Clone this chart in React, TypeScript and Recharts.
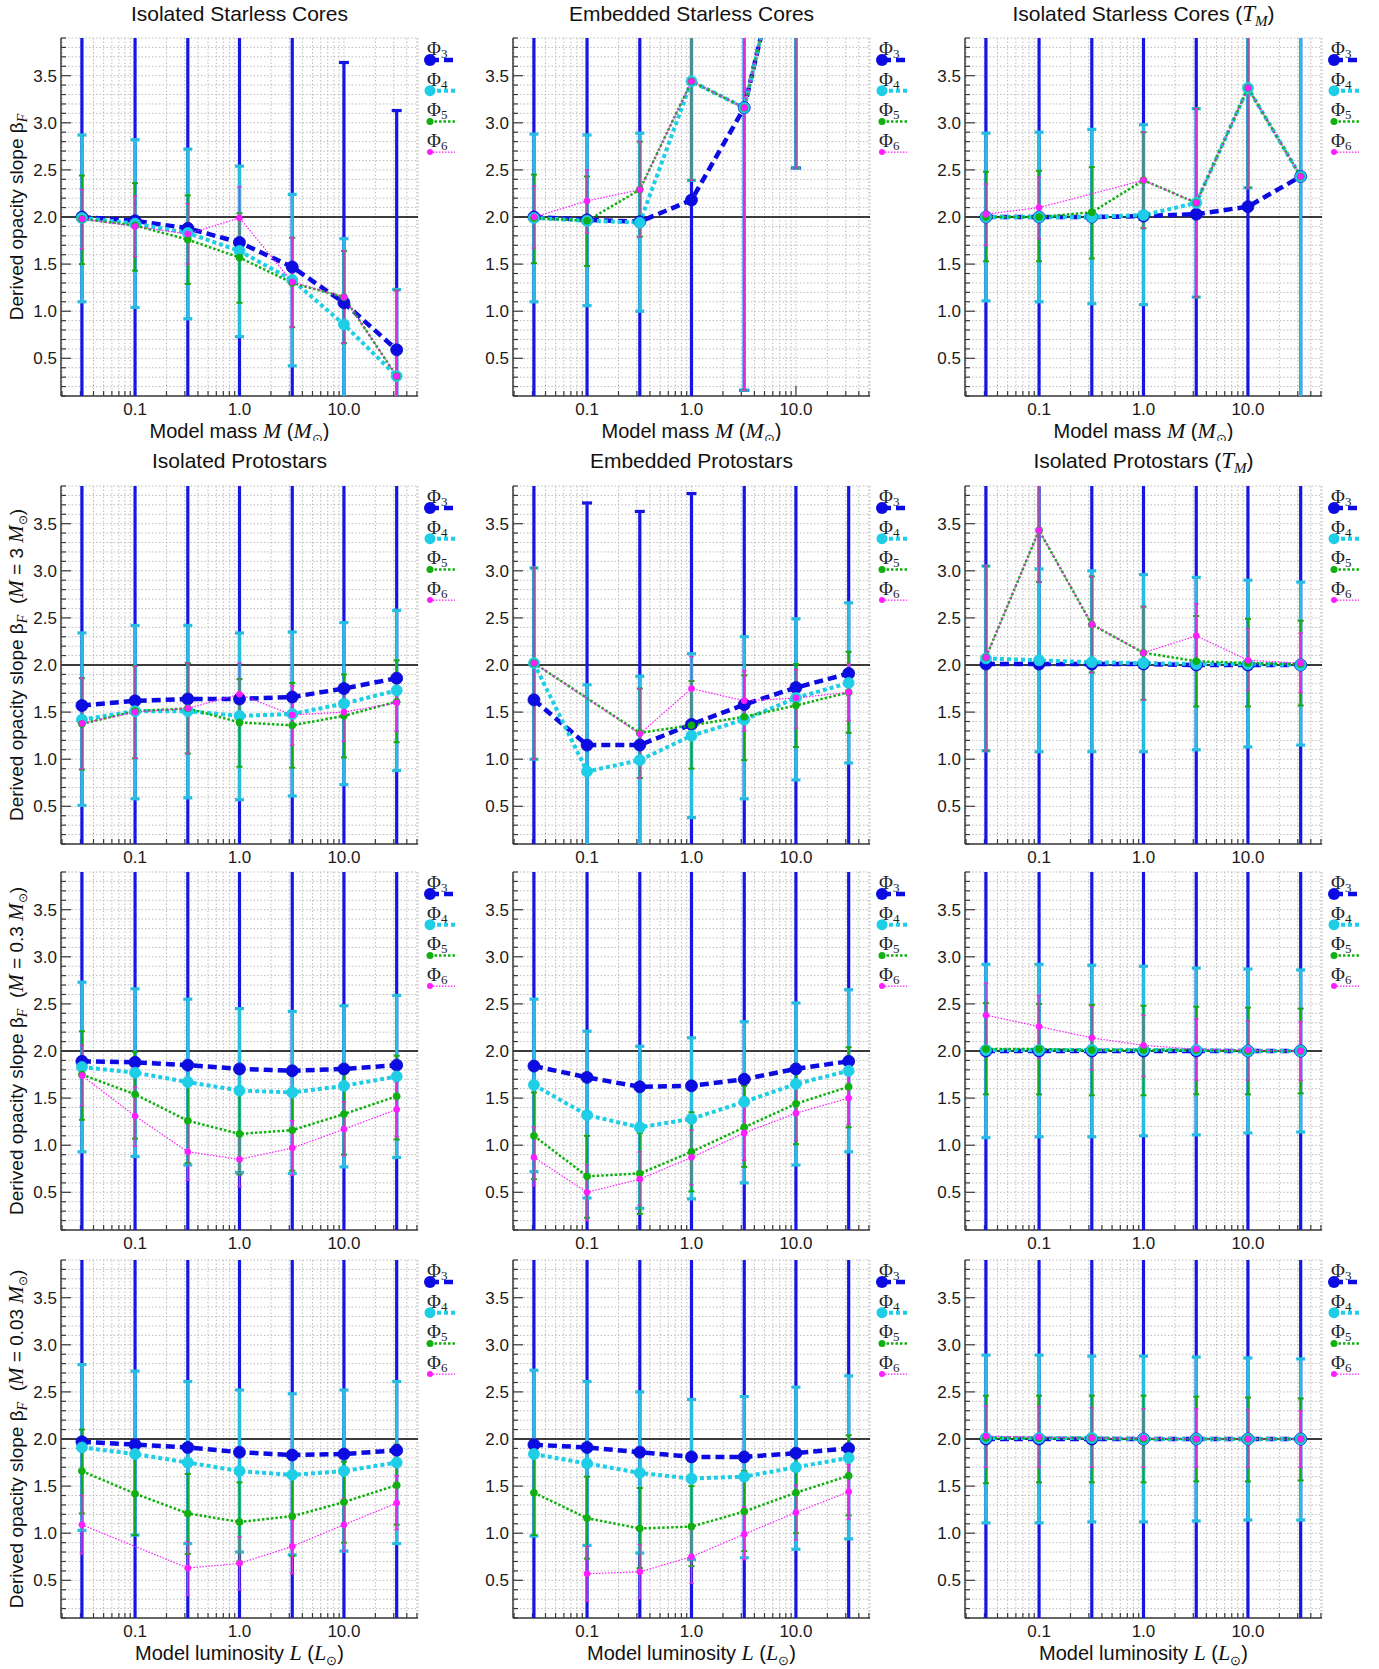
import React from "react";
import { ComposedChart, Line, ErrorBar, XAxis, YAxis, CartesianGrid, ReferenceLine } from "recharts";

// model grid (mass in Msun for the top row, luminosity in Lsun below)
const X_POINTS = [0.031, 0.1, 0.32, 1, 3.2, 10, 32];

// error bar ends that run off the plotted range
const L = -3;
const H = 7;
const OFF_LO = [L, L, L, L, L, L, L];
const OFF_HI = [H, H, H, H, H, H, H];

// rows are Phi3, Phi4, Phi5, Phi6
// Isolated Starless Cores
const iscVal = [
  [2.0, 1.96, 1.88, 1.73, 1.47, 1.09, 0.59],
  [1.99, 1.93, 1.83, 1.64, 1.33, 0.86, 0.31],
  [1.98, 1.91, 1.76, 1.57, 1.3, 1.15, 0.31],
  [1.98, 1.9, 1.82, 1.99, 1.31, 1.15, 0.31],
];
const iscLo = [OFF_LO, [1.1, 1.04, 0.92, 0.73, 0.42, L, L], [1.5, 1.43, 1.29, 1.09, 0.83, 0.66, L], [1.66, 1.58, 1.5, 1.66, 0.83, 0.66, L]];
const iscHi = [[H, H, H, H, H, 3.64, 3.13], [2.87, 2.82, 2.72, 2.54, 2.24, 1.77, 1.23], [2.44, 2.36, 2.23, 2.04, 1.78, 1.64, 1.22], [2.29, 2.22, 2.14, 2.32, 1.78, 1.64, 1.22]];

// Embedded Starless Cores
const escVal = [
  [2.0, 1.97, 1.95, 2.18, 3.16, 5.5, null],
  [1.99, 1.96, 1.94, 3.44, 3.16, 5.5, null],
  [1.99, 1.96, 2.29, 3.44, 3.16, 5.5, null],
  [2.0, 2.17, 2.29, 3.44, 3.16, 5.5, null],
];
const escLo = [[L, L, L, L, 0.16, 2.52, null], [1.1, 1.06, 1.0, 2.39, 0.16, 2.52, null], [1.51, 1.48, 1.79, 2.39, 0.16, 2.52, null], [1.67, 1.83, 1.79, 2.39, 0.16, 2.52, null]];
const escHi = [[H, H, H, H, H, H, null], [2.88, 2.87, 2.89, H, H, H, null], [2.45, 2.43, 2.8, H, H, H, null], [2.33, 2.5, 2.8, H, H, H, null]];

// Isolated Starless Cores (T_M)
const iscTmVal = [
  [2.0, 2.0, 2.0, 2.01, 2.03, 2.11, 2.43],
  [2.0, 2.0, 2.0, 2.02, 2.15, 3.37, 2.43],
  [2.0, 2.0, 2.05, 2.39, 2.15, 3.37, 2.43],
  [2.03, 2.1, null, 2.39, 2.15, 3.37, 2.43],
];
const iscTmLo = [OFF_LO, [1.11, 1.1, 1.08, 1.07, 1.15, 2.31, L], [1.53, 1.53, 1.56, 1.88, 1.15, 2.31, null], [1.7, 1.77, null, 1.88, 1.15, 2.31, null]];
const iscTmHi = [OFF_HI, [2.89, 2.9, 2.93, 2.98, 3.15, H, H], [2.48, 2.49, 2.53, 2.9, 3.15, H, null], [2.35, 2.42, null, 2.9, 3.15, H, null]];

// Isolated Protostars, M = 3
const ip3Val = [
  [1.57, 1.62, 1.64, 1.64, 1.66, 1.75, 1.86],
  [1.42, 1.51, 1.51, 1.46, 1.48, 1.59, 1.73],
  [1.375, 1.51, 1.54, 1.39, 1.36, 1.46, 1.61],
  [1.38, 1.5, 1.54, 1.69, 1.47, 1.5, 1.6],
];
const ip3Lo = [OFF_LO, [0.51, 0.58, 0.59, 0.57, 0.61, 0.73, 0.88], [0.89, 1.01, 1.06, 0.92, 0.91, 1.02, 1.18], [0.9, 1.01, 1.06, 1.36, 1.15, 1.19, 1.3]];
const ip3Hi = [OFF_HI, [2.34, 2.42, 2.42, 2.34, 2.35, 2.45, 2.58], [1.86, 1.99, 2.02, 1.85, 1.81, 1.9, 2.05], [1.86, 1.99, 2.02, 2.02, 1.78, 1.7, 1.9]];

// Embedded Protostars, M = 3
const ep3Val = [
  [1.63, 1.15, 1.15, 1.37, 1.58, 1.76, 1.91],
  [2.02, 0.87, 0.99, 1.25, 1.42, 1.65, 1.81],
  [2.02, null, 1.28, 1.36, 1.45, 1.57, 1.71],
  [2.02, null, 1.27, 1.75, 1.62, 1.65, 1.71],
];
const ep3Lo = [OFF_LO, [1.0, L, L, 0.38, 0.58, 0.78, 0.96], [1.0, null, 0.8, 0.9, 0.99, 1.13, 1.28], [1.0, null, 0.8, 1.41, 1.3, 1.33, 1.41]];
const ep3Hi = [[H, 3.72, 3.63, 3.82, H, H, H], [3.03, 1.79, 1.88, 2.12, 2.3, 2.49, 2.66], [3.03, null, 1.75, 1.83, 1.89, 2.01, 2.14], [3.03, null, 1.75, 2.09, 1.94, 1.95, 2.01]];

// Isolated Protostars (T_M), M = 3
const ip3TmVal = [
  [2.01, 2.01, 2.01, 2.01, 2.0, 2.0, 2.0],
  [2.07, 2.05, 2.03, 2.02, 2.01, 2.01, 2.0],
  [2.08, 3.43, 2.43, 2.13, 2.04, 2.02, 2.01],
  [2.08, 3.43, 2.43, 2.13, 2.31, 2.05, 2.02],
];
const ip3TmLo = [OFF_LO, [1.09, 1.08, 1.08, 1.08, 1.1, 1.13, 1.15], [1.09, 2.88, 1.92, 1.63, 1.56, 1.56, 1.57], [1.09, 2.88, 1.92, 1.63, 1.97, 1.73, 1.71]];
const ip3TmHi = [OFF_HI, [3.05, 3.02, 3.0, 2.96, 2.93, 2.9, 2.88], [3.05, H, 2.94, 2.62, 2.52, 2.49, 2.47], [3.05, H, 2.94, 2.62, 2.65, 2.38, 2.34]];

// Isolated Protostars, M = 0.3
const ip03Val = [
  [1.89, 1.88, 1.85, 1.81, 1.79, 1.81, 1.85],
  [1.83, 1.77, 1.67, 1.58, 1.56, 1.63, 1.73],
  [1.75, 1.54, 1.26, 1.12, 1.16, 1.33, 1.52],
  [1.74, 1.31, 0.93, 0.85, 0.97, 1.17, 1.38],
];
const ip03Lo = [OFF_LO, [0.93, 0.88, 0.79, 0.71, 0.7, 0.77, 0.87], [1.27, 1.07, 0.81, 0.69, 0.73, 0.9, 1.06], [1.42, 0.99, 0.63, 0.56, 0.68, 0.89, 1.09]];
const ip03Hi = [OFF_HI, [2.73, 2.66, 2.55, 2.45, 2.42, 2.48, 2.59], [2.21, 1.99, 1.71, 1.58, 1.59, 1.76, 1.95], [2.06, 1.62, 1.23, 1.12, 1.26, 1.46, 1.67]];

// Embedded Protostars, M = 0.3
const ep03Val = [
  [1.84, 1.72, 1.62, 1.63, 1.7, 1.81, 1.89],
  [1.64, 1.32, 1.19, 1.28, 1.46, 1.65, 1.79],
  [1.1, 0.67, 0.7, 0.93, 1.19, 1.44, 1.62],
  [0.87, 0.5, 0.64, 0.87, 1.13, 1.34, 1.5],
];
const ep03Lo = [OFF_LO, [0.72, 0.44, 0.33, 0.43, 0.6, 0.79, 0.93], [0.64, 0.23, 0.27, 0.51, 0.77, 1.01, 1.19], [0.57, 0.2, 0.36, 0.58, 0.84, 1.05, 1.22]];
const ep03Hi = [OFF_HI, [2.55, 2.21, 2.05, 2.14, 2.31, 2.51, 2.65], [1.56, 1.1, 1.13, 1.35, 1.63, 1.86, 2.04], [1.19, 0.79, 0.93, 1.16, 1.41, 1.63, 1.79]];

// Isolated Protostars (T_M), M = 0.3
const ip03TmVal = [
  [2.0, 2.0, 2.0, 2.0, 2.0, 2.0, 2.0],
  [2.01, 2.01, 2.01, 2.01, 2.01, 2.0, 2.0],
  [2.02, 2.02, 2.01, 2.01, 2.01, 2.0, 2.0],
  [2.38, 2.26, 2.14, 2.06, 2.02, 2.01, 2.0],
];
const ip03TmLo = [OFF_LO, [1.08, 1.09, 1.09, 1.1, 1.11, 1.13, 1.14], [1.54, 1.54, 1.53, 1.53, 1.54, 1.54, 1.55], [2.04, 1.92, 1.8, 1.73, 1.69, 1.69, 1.69]];
const ip03TmHi = [OFF_HI, [2.92, 2.92, 2.91, 2.9, 2.88, 2.87, 2.86], [2.51, 2.5, 2.49, 2.48, 2.47, 2.46, 2.45], [2.72, 2.59, 2.47, 2.38, 2.34, 2.32, 2.31]];

// Isolated Protostars, M = 0.03
const ip003Val = [
  [1.97, 1.94, 1.91, 1.86, 1.83, 1.84, 1.88],
  [1.91, 1.84, 1.75, 1.66, 1.62, 1.66, 1.75],
  [1.66, 1.42, 1.21, 1.12, 1.18, 1.33, 1.51],
  [1.09, null, 0.63, 0.68, 0.86, 1.09, 1.32],
];
const ip003Lo = [OFF_LO, [1.03, 0.98, 0.89, 0.8, 0.77, 0.81, 0.89], [1.21, 0.98, 0.78, 0.7, 0.76, 0.9, 1.09], [0.78, null, 0.34, 0.4, 0.57, 0.81, 1.04]];
const ip003Hi = [OFF_HI, [2.79, 2.72, 2.61, 2.52, 2.48, 2.52, 2.61], [2.1, 1.86, 1.63, 1.54, 1.6, 1.76, 1.94], [1.4, null, 0.91, 0.96, 1.14, 1.37, 1.61]];

// Embedded Protostars, M = 0.03
const ep003Val = [
  [1.94, 1.91, 1.86, 1.81, 1.81, 1.85, 1.9],
  [1.84, 1.74, 1.64, 1.58, 1.6, 1.7, 1.8],
  [1.43, 1.16, 1.05, 1.07, 1.23, 1.43, 1.61],
  [null, 0.57, 0.59, 0.75, 0.99, 1.22, 1.44],
];
const ep003Lo = [OFF_LO, [0.97, 0.87, 0.79, 0.72, 0.74, 0.83, 0.94], [0.98, 0.73, 0.63, 0.65, 0.81, 1.0, 1.19], [null, 0.28, 0.31, 0.47, 0.72, 0.93, 1.15]];
const ep003Hi = [OFF_HI, [2.73, 2.61, 2.5, 2.42, 2.45, 2.55, 2.67], [1.86, 1.6, 1.48, 1.5, 1.66, 1.86, 2.04], [null, 0.86, 0.88, 1.04, 1.28, 1.51, 1.73]];

// Isolated Protostars (T_M), M = 0.03
const ip003TmVal = [
  [2.0, 2.0, 2.0, 2.0, 2.0, 2.0, 2.0],
  [2.01, 2.01, 2.01, 2.0, 2.0, 2.0, 2.0],
  [2.01, 2.01, 2.01, 2.0, 2.0, 2.0, 2.0],
  [2.03, 2.02, 2.01, 2.01, 2.0, 2.0, 2.0],
];
const ip003TmLo = [OFF_LO, [1.11, 1.11, 1.12, 1.12, 1.13, 1.14, 1.14], [1.53, 1.54, 1.54, 1.54, 1.55, 1.55, 1.56], [1.7, 1.7, 1.7, 1.7, 1.7, 1.7, 1.7]];
const ip003TmHi = [OFF_HI, [2.89, 2.89, 2.88, 2.88, 2.87, 2.86, 2.85], [2.46, 2.46, 2.46, 2.46, 2.45, 2.44, 2.43], [2.35, 2.34, 2.33, 2.32, 2.32, 2.31, 2.3]];

// axes
const X_DOMAIN = [0.01954, 51.2];
const Y_DOMAIN = [0.1, 3.9];
const X_TICKS = [0.02, 0.03, 0.04, 0.05, 0.06, 0.07, 0.08, 0.09, 0.1, 0.2, 0.3, 0.4, 0.5, 0.6, 0.7, 0.8, 0.9, 1, 2, 3, 4, 5, 6, 7, 8, 9, 10, 20, 30, 40, 50];
const X_LABELS: Record<string, string> = { "0.1": "0.1", "1": "1.0", "10": "10.0" };
const Y_TICKS = [0.1, 0.2, 0.3, 0.4, 0.5, 0.6, 0.7, 0.8, 0.9, 1.0, 1.1, 1.2, 1.3, 1.4, 1.5, 1.6, 1.7, 1.8, 1.9, 2.0, 2.1, 2.2, 2.3, 2.4, 2.5, 2.6, 2.7, 2.8, 2.9, 3.0, 3.1, 3.2, 3.3, 3.4, 3.5, 3.6, 3.7, 3.8, 3.9];
const Y_LABELS = [0.5, 1.0, 1.5, 2.0, 2.5, 3.0, 3.5];

const SERIES = [
  { sub: "3", color: "#0b0be2", width: 4.5, dash: "9 5", r: 6, err: "#1515e6", errW: 3.2, cap: 5 },
  { sub: "4", color: "#1ecde6", width: 4, dash: "4 3", r: 5.5, err: "#27bde3", errW: 3.2, cap: 4.5 },
  { sub: "5", color: "#10b010", width: 2.5, dash: "2.5 2", r: 3.5, err: "#15a915", errW: 2, cap: 3 },
  { sub: "6", color: "#ff1cff", width: 1.2, dash: "1.5 1.5", r: 3, err: "#dd30dd", errW: 1.5, cap: 2.2 },
];

// layout
const PW = 357;
const PH = 358;
const COL_LEFT = [61, 513, 965];
const ROW_TOP = [38, 486, 872, 1260];
const FRAME = "#3a3a3a";
const SANS = "'Liberation Sans', Arial, Helvetica, sans-serif";
const SERIF = "'Liberation Serif', 'Times New Roman', serif";

const PANELS = [
  { row: 0, col: 0, title: "Isolated Starless Cores", tm: false, val: iscVal, lo: iscLo, hi: iscHi },
  { row: 0, col: 1, title: "Embedded Starless Cores", tm: false, val: escVal, lo: escLo, hi: escHi },
  { row: 0, col: 2, title: "Isolated Starless Cores", tm: true, val: iscTmVal, lo: iscTmLo, hi: iscTmHi },
  { row: 1, col: 0, title: "Isolated Protostars", tm: false, val: ip3Val, lo: ip3Lo, hi: ip3Hi },
  { row: 1, col: 1, title: "Embedded Protostars", tm: false, val: ep3Val, lo: ep3Lo, hi: ep3Hi },
  { row: 1, col: 2, title: "Isolated Protostars", tm: true, val: ip3TmVal, lo: ip3TmLo, hi: ip3TmHi },
  { row: 2, col: 0, title: "", tm: false, val: ip03Val, lo: ip03Lo, hi: ip03Hi },
  { row: 2, col: 1, title: "", tm: false, val: ep03Val, lo: ep03Lo, hi: ep03Hi },
  { row: 2, col: 2, title: "", tm: false, val: ip03TmVal, lo: ip03TmLo, hi: ip03TmHi },
  { row: 3, col: 0, title: "", tm: false, val: ip003Val, lo: ip003Lo, hi: ip003Hi },
  { row: 3, col: 1, title: "", tm: false, val: ep003Val, lo: ep003Lo, hi: ep003Hi },
  { row: 3, col: 2, title: "", tm: false, val: ip003TmVal, lo: ip003TmLo, hi: ip003TmHi },
];

const ROW_MASS = ["", "3", "0.3", "0.03"];

function buildRows(val: (number | null)[][], lo: (number | null)[][], hi: (number | null)[][]) {
  return X_POINTS.map((x, i) => {
    const row: any = { x };
    for (let k = 0; k < 4; k++) {
      const v = val[k][i];
      const a = lo[k][i];
      const b = hi[k][i];
      row[`v${k}`] = v;
      row[`e${k}`] = v == null || a == null || b == null ? null : [v - a, b - v];
    }
    return row;
  });
}

const isMajorY = (v: number) => Y_LABELS.some((m) => Math.abs(m - v) < 1e-6);

function BottomTick(props: any) {
  const { x, y, payload } = props;
  const lab = X_LABELS[String(payload.value)];
  return (
    <g>
      <line x1={x} x2={x} y1={y} y2={y - (lab ? 10 : 5)} stroke={FRAME} strokeWidth={1.2} />
      {lab && (
        <text x={x} y={y + 19} textAnchor="middle" fontSize={17} fontFamily={SANS} fill="#1a1a1a">
          {lab}
        </text>
      )}
    </g>
  );
}

function TopTick(props: any) {
  const { x, y, payload } = props;
  const lab = X_LABELS[String(payload.value)];
  return <line x1={x} x2={x} y1={y} y2={y + (lab ? 10 : 5)} stroke={FRAME} strokeWidth={1.2} />;
}

function LeftTick(props: any) {
  const { x, y, payload } = props;
  const major = isMajorY(payload.value);
  return (
    <g>
      <line x1={x} x2={x + (major ? 10 : 5)} y1={y} y2={y} stroke={FRAME} strokeWidth={1.2} />
      {major && (
        <text x={x - 4} y={y + 6} textAnchor="end" fontSize={17} fontFamily={SANS} fill="#1a1a1a">
          {payload.value.toFixed(1)}
        </text>
      )}
    </g>
  );
}

function RightTick(props: any) {
  const { x, y, payload } = props;
  const major = isMajorY(payload.value);
  return <line x1={x} x2={x - (major ? 10 : 5)} y1={y} y2={y} stroke={FRAME} strokeWidth={1.2} />;
}

function PanelFrame({ left, top, rows }: { left: number; top: number; rows: any[] }) {
  const axisLine = { stroke: FRAME, strokeWidth: 1.5 };
  return (
    <div style={{ position: "absolute", left: left - 60, top: top - 10 }}>
      <ComposedChart width={PW + 70} height={PH + 50} data={rows} margin={{ top: 10, right: 10, bottom: 10, left: 10 }}>
        <CartesianGrid stroke="#bdbdbd" strokeDasharray="1.5 2" />
        <XAxis type="number" dataKey="x" scale="log" domain={X_DOMAIN} allowDataOverflow ticks={X_TICKS} interval={0}
          tick={<BottomTick />} tickLine={false} tickSize={0} tickMargin={0} height={30} axisLine={axisLine} />
        <XAxis xAxisId="top" orientation="top" type="number" dataKey="x" scale="log" domain={X_DOMAIN} allowDataOverflow
          ticks={X_TICKS} interval={0} tick={<TopTick />} tickLine={false} tickSize={0} tickMargin={0} height={0} axisLine={axisLine} />
        <YAxis type="number" domain={Y_DOMAIN} allowDataOverflow ticks={Y_TICKS} interval={0} tick={<LeftTick />}
          tickLine={false} tickSize={0} tickMargin={0} width={50} axisLine={axisLine} />
        <YAxis yAxisId="right" orientation="right" type="number" domain={Y_DOMAIN} allowDataOverflow ticks={Y_TICKS}
          interval={0} tick={<RightTick />} tickLine={false} tickSize={0} tickMargin={0} width={0} axisLine={axisLine} />
        <ReferenceLine y={2} stroke="#000" strokeWidth={1.6} />
      </ComposedChart>
    </div>
  );
}

function PanelData({ left, top, rows }: { left: number; top: number; rows: any[] }) {
  return (
    <div style={{ position: "absolute", left, top, width: PW, height: PH, overflow: "hidden" }}>
      <ComposedChart width={PW} height={PH} data={rows} margin={{ top: 0, right: 0, bottom: 0, left: 0 }}>
        <XAxis type="number" dataKey="x" scale="log" domain={X_DOMAIN} allowDataOverflow hide />
        <YAxis type="number" domain={Y_DOMAIN} allowDataOverflow hide />
        {SERIES.map((s, k) => (
          <Line key={`err${k}`} dataKey={`v${k}`} stroke="none" dot={false} activeDot={false} legendType="none"
            isAnimationActive={false} connectNulls>
            <ErrorBar dataKey={`e${k}`} width={s.cap} stroke={s.err} strokeWidth={s.errW} isAnimationActive={false} />
          </Line>
        ))}
        {SERIES.map((s, k) => (
          <Line key={`line${k}`} dataKey={`v${k}`} stroke={s.color} strokeWidth={s.width} strokeDasharray={s.dash}
            activeDot={false} isAnimationActive={false} connectNulls
            dot={(p: any) =>
              p.cx == null || p.cy == null || p.value == null ? (
                <g key={`d${k}-${p.index}`} />
              ) : (
                <circle key={`d${k}-${p.index}`} cx={p.cx} cy={p.cy} r={s.r} fill={s.color} stroke={k === 0 ? "#0a0ac8" : s.color} strokeWidth={0.8} />
              )
            }
          />
        ))}
      </ComposedChart>
    </div>
  );
}

function Overlay() {
  const els: React.ReactNode[] = [];
  PANELS.forEach((p, idx) => {
    const left = COL_LEFT[p.col];
    const top = ROW_TOP[p.row];
    const cx = left + PW / 2;
    const R = left + PW;
    if (p.title) {
      els.push(
        <text key={`t${idx}`} x={cx} y={top - (p.row === 0 ? 17 : 18)} textAnchor="middle" fontSize={21} fontFamily={SANS} fill="#111">
          {p.title}
          {p.tm && (
            <>
              <tspan> (</tspan>
              <tspan fontFamily={SERIF} fontStyle="italic" fontSize={23}>T</tspan>
              <tspan fontFamily={SERIF} fontStyle="italic" fontSize={15} dy={5}>M</tspan>
              <tspan dy={-5}>)</tspan>
            </>
          )}
        </text>
      );
    }
    if (p.row === 0) {
      els.push(
        <text key={`xl${idx}`} x={cx} y={top + PH + 42} textAnchor="middle" fontSize={20} fontFamily={SANS} fill="#111" clipPath="url(#row1clip)">
          Model mass <tspan fontFamily={SERIF} fontStyle="italic" fontSize={22}>M</tspan> (<tspan fontFamily={SERIF} fontStyle="italic" fontSize={22}>M</tspan>
          <tspan fontSize={13} dy={5}>⊙</tspan>
          <tspan dy={-5}>)</tspan>
        </text>
      );
    }
    if (p.row === 3) {
      els.push(
        <text key={`xl${idx}`} x={cx} y={top + PH + 42} textAnchor="middle" fontSize={20} fontFamily={SANS} fill="#111">
          Model luminosity <tspan fontFamily={SERIF} fontStyle="italic" fontSize={22}>L</tspan> (<tspan fontFamily={SERIF} fontStyle="italic" fontSize={22}>L</tspan>
          <tspan fontSize={13} dy={5}>⊙</tspan>
          <tspan dy={-5}>)</tspan>
        </text>
      );
    }
    if (p.col === 0) {
      const m = ROW_MASS[p.row];
      els.push(
        <text key={`yl${idx}`} transform={`translate(23,${top + PH / 2}) rotate(-90)`} textAnchor="middle" fontSize={19} fontFamily={SANS} fill="#111">
          Derived opacity slope β<tspan fontFamily={SERIF} fontStyle="italic" fontSize={14} dy={4}>F</tspan>
          {m ? (
            <>
              <tspan dy={-4}>{"\u00a0\u00a0("}</tspan>
              <tspan fontFamily={SERIF} fontStyle="italic" fontSize={21}>M</tspan>
              <tspan>{` = ${m} `}</tspan>
              <tspan fontFamily={SERIF} fontStyle="italic" fontSize={21}>M</tspan>
              <tspan fontSize={12} dy={4}>⊙</tspan>
              <tspan dy={-4}>)</tspan>
            </>
          ) : null}
        </text>
      );
    }
    SERIES.forEach((s, k) => {
      const ty = top + 17 + 30.7 * k;
      const ly = top + 22 + 30.7 * k;
      els.push(
        <g key={`lg${idx}-${k}`}>
          <text x={R + 9} y={ty} fontFamily={SERIF} fontSize={19} fill="#222">
            Φ<tspan fontSize={13} dy={3}>{s.sub}</tspan>
          </text>
          <line x1={R + 12} x2={R + 37} y1={ly} y2={ly} stroke={s.color} strokeWidth={s.width} strokeDasharray={s.dash} />
          <circle cx={R + 12} cy={ly} r={s.r} fill={s.color} />
        </g>
      );
    });
  });
  return (
    <svg width={1379} height={1669} style={{ position: "absolute", left: 0, top: 0, pointerEvents: "none" }}>
      <defs>
        <clipPath id="row1clip">
          <rect x={0} y={0} width={1379} height={441} />
        </clipPath>
      </defs>
      {els}
    </svg>
  );
}

export default function App() {
  return (
    <div style={{ position: "absolute", left: 0, top: 0, width: 1379, height: 1669, background: "#fff", fontFamily: SANS }}>
      {PANELS.map((p, idx) => {
        const rows = buildRows(p.val, p.lo, p.hi);
        const left = COL_LEFT[p.col];
        const top = ROW_TOP[p.row];
        return (
          <React.Fragment key={idx}>
            <PanelFrame left={left} top={top} rows={rows} />
            <PanelData left={left} top={top} rows={rows} />
          </React.Fragment>
        );
      })}
      <Overlay />
    </div>
  );
}
